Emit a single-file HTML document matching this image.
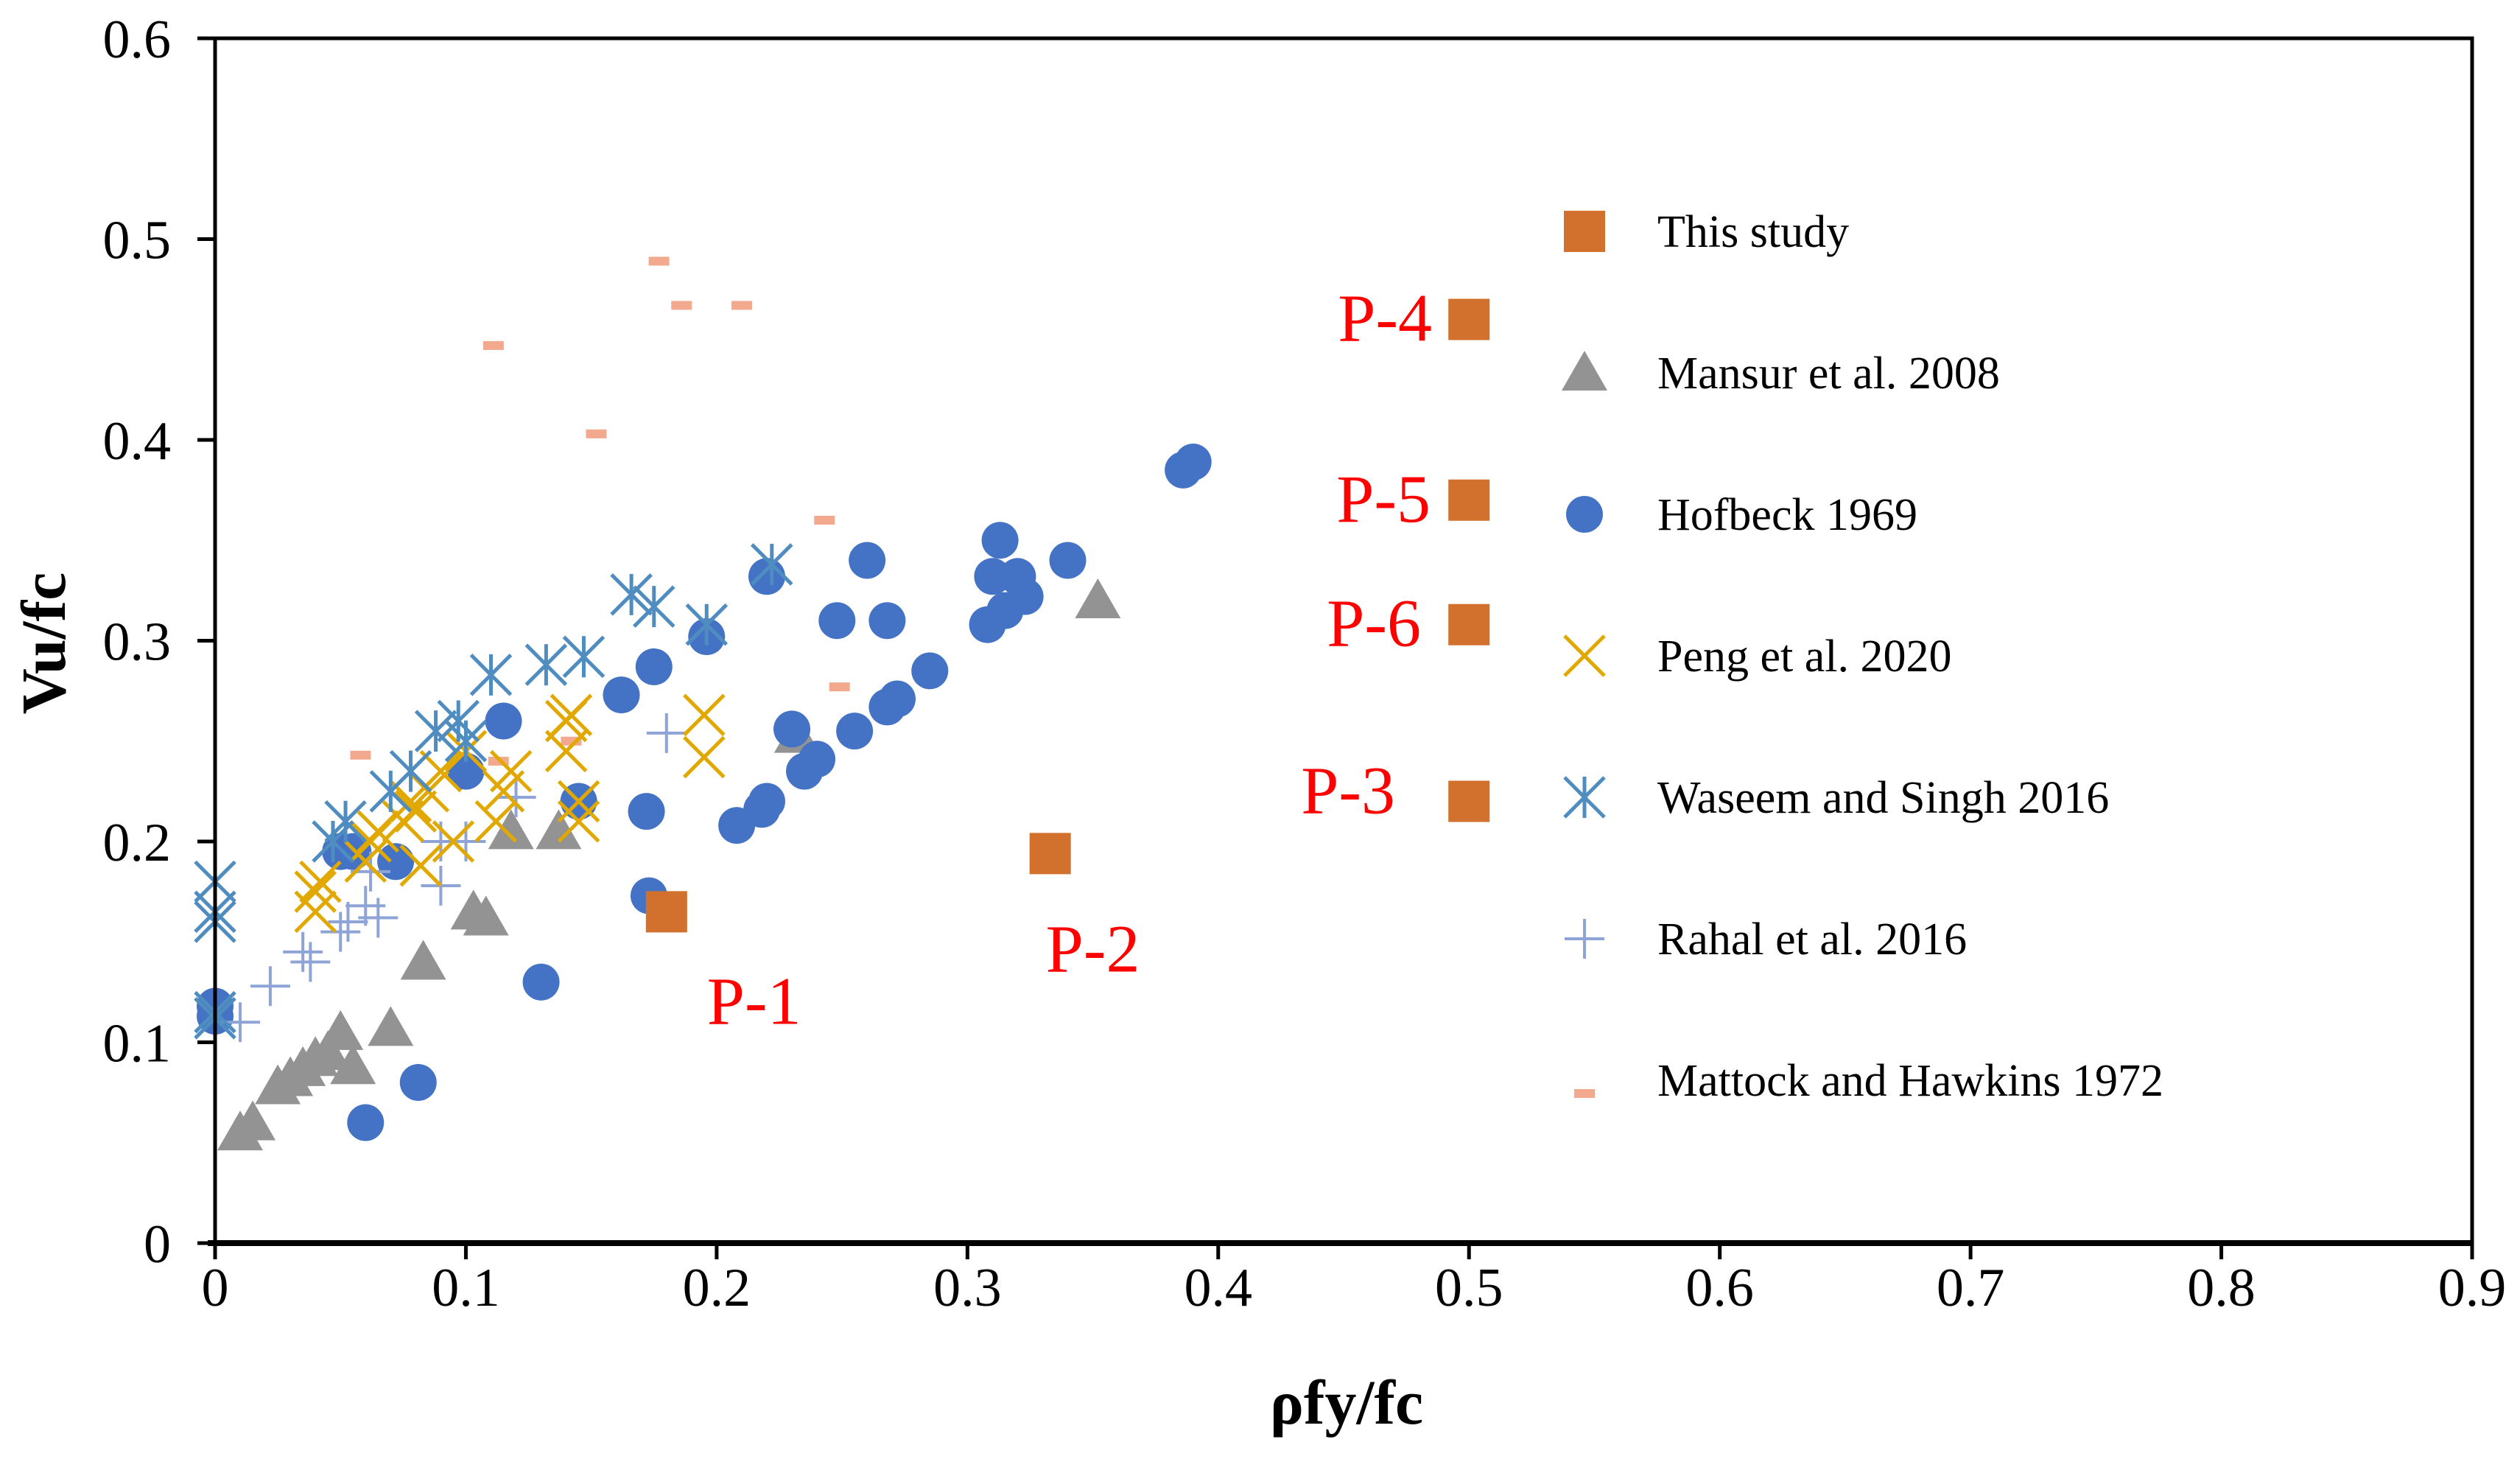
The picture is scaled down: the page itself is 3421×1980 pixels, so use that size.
<!DOCTYPE html>
<html><head><meta charset="utf-8"><style>
html,body{margin:0;padding:0;background:#fff;}
svg{display:block;font-family:"Liberation Serif","Times New Roman",serif;}
</style></head><body>
<svg id="chart" width="3421" height="1980" viewBox="0 0 3421 1980" xmlns="http://www.w3.org/2000/svg">
<rect x="0" y="0" width="3421" height="1980" fill="#fff"/>
<g id="marks"></g>
<g id="axes"></g>
<g id="legend"></g>
<g id="labels"></g>
</svg>
<script>
const xTicks = [0,0.1,0.2,0.3,0.4,0.5,0.6,0.7,0.8,0.9];
const xTickLabels = ["0","0.1","0.2","0.3","0.4","0.5","0.6","0.7","0.8","0.9"];
const yTicks = [0,0.1,0.2,0.3,0.4,0.5,0.6];
const yTickLabels = ["0","0.1","0.2","0.3","0.4","0.5","0.6"];

const studyX = [0.18,0.333,0.5,0.5,0.5,0.5];
const studyY = [0.165,0.194,0.46,0.37,0.308,0.22];
const studyNames = ["P-1","P-2","P-4","P-5","P-6","P-3"];

const mansurX = [0.01,0.015,0.025,0.03,0.035,0.04,0.045,0.05,0.055,0.07,0.083,0.103,0.108,0.118,0.137,0.232,0.352];
const mansurY = [0.055,0.06,0.078,0.082,0.087,0.092,0.095,0.105,0.088,0.107,0.14,0.165,0.162,0.205,0.205,0.253,0.32];

const hofX = [0,0,0.06,0.081,0.13,0.05,0.055,0.072,0.1,0.115,0.145,0.162,0.172,0.173,0.175,0.196,0.208,0.218,0.22,0.22,0.23,0.235,0.24,0.248,0.255,0.26,0.268,0.268,0.272,0.285,0.308,0.31,0.313,0.315,0.32,0.323,0.34,0.386,0.39];
const hofY = [0.118,0.113,0.06,0.08,0.13,0.195,0.195,0.19,0.235,0.26,0.22,0.273,0.215,0.173,0.287,0.302,0.208,0.216,0.22,0.332,0.256,0.235,0.241,0.31,0.255,0.34,0.267,0.31,0.271,0.285,0.308,0.332,0.35,0.315,0.332,0.322,0.34,0.385,0.389];

const pengX = [0.04,0.04,0.042,0.06,0.062,0.065,0.075,0.078,0.08,0.082,0.085,0.09,0.095,0.1,0.112,0.115,0.118,0.14,0.14,0.142,0.145,0.145,0.195,0.195];
const pengY = [0.165,0.175,0.18,0.19,0.2,0.205,0.21,0.22,0.215,0.188,0.225,0.235,0.2,0.245,0.21,0.225,0.235,0.245,0.26,0.263,0.21,0.22,0.242,0.263];

const waseemX = [0,0,0,0,0,0.047,0.052,0.07,0.078,0.088,0.097,0.1,0.11,0.132,0.147,0.166,0.175,0.196,0.222];
const waseemY = [0.18,0.165,0.16,0.115,0.112,0.2,0.21,0.225,0.235,0.255,0.26,0.25,0.283,0.288,0.292,0.323,0.317,0.308,0.338];

const rahalX = [0.01,0.022,0.035,0.038,0.05,0.053,0.06,0.065,0.062,0.09,0.09,0.1,0.12,0.18];
const rahalY = [0.11,0.128,0.145,0.14,0.155,0.16,0.168,0.162,0.185,0.178,0.2,0.2,0.222,0.254];

const mattX = [0.058,0.111,0.113,0.142,0.152,0.177,0.186,0.21,0.243,0.249];
const mattY = [0.243,0.447,0.24,0.25,0.403,0.489,0.467,0.467,0.36,0.277];

const legendNames = ["This study","Mansur et al. 2008","Hofbeck 1969","Peng et al. 2020","Waseem and Singh 2016","Rahal et al. 2016","Mattock and Hawkins 1972"];

const NS="http://www.w3.org/2000/svg";
const L=292,R=3356,T=52,B=1687;
const xS=v=>L+(v/0.9)*(R-L);
const yS=v=>B-(v/0.6)*(B-T);
function mk(tag,attrs,parent){const e=document.createElementNS(NS,tag);for(const k in attrs)e.setAttribute(k,attrs[k]);parent.appendChild(e);return e;}
const marks=document.getElementById('marks'),axes=document.getElementById('axes'),legend=document.getElementById('legend'),labels=document.getElementById('labels');

function drawMarker(type,cx,cy,parent){
  let e;
  if(type==='square'){e=mk('rect',{x:cx-28,y:cy-28,width:56,height:56,fill:'#D2702D'},parent);}
  else if(type==='tri'){e=mk('polygon',{points:`${cx},${cy-30} ${cx+31},${cy+24} ${cx-31},${cy+24}`,fill:'#939393'},parent);}
  else if(type==='circle'){e=mk('ellipse',{cx:cx,cy:cy,rx:25,ry:25,fill:'#4472C4'},parent);}
  else if(type==='x'){e=mk('path',{d:`M${cx-27},${cy-27}L${cx+27},${cy+27}M${cx-27},${cy+27}L${cx+27},${cy-27}`,stroke:'#E0A800','stroke-width':5,fill:'none'},parent);}
  else if(type==='star'){e=mk('path',{d:`M${cx-27},${cy-27}L${cx+27},${cy+27}M${cx-27},${cy+27}L${cx+27},${cy-27}M${cx},${cy-28}L${cx},${cy+28}`,stroke:'#4F8CC0','stroke-width':5,fill:'none'},parent);}
  else if(type==='plus'){e=mk('path',{d:`M${cx-27},${cy}L${cx+27},${cy}M${cx},${cy-27}L${cx},${cy+27}`,stroke:'#8FA4D6','stroke-width':4,fill:'none'},parent);}
  else if(type==='dash'){e=mk('rect',{x:cx-14,y:cy-6,width:28,height:12,fill:'#F2A98D'},parent);}
  return e;
}
const series=[
 ['mattock',mattX,mattY,'dash'],
 ['mansur',mansurX,mansurY,'tri'],
 ['hofbeck',hofX,hofY,'circle'],
 ['rahal',rahalX,rahalY,'plus'],
 ['peng',pengX,pengY,'x'],
 ['waseem',waseemX,waseemY,'star'],
 ['this-study',studyX,studyY,'square']
];
series.forEach(s=>{
  const g=mk('g',{},marks);
  
  
  s[1].forEach((xv,i)=>{
    const e=drawMarker(s[3],xS(xv),yS(s[2][i]),g);
    
    
  });
});

// P labels (offsets relative to each point)
const pOff={"P-1":[55,152],"P-2":[-6,160],"P-4":[-178,29],"P-5":[-180,29],"P-6":[-193,29],"P-3":[-228,16]};
studyNames.forEach((n,i)=>{
  const o=pOff[n];
  const x=xS(studyX[i])+o[0], y=yS(studyY[i])+o[1];
  const t=mk('text',{x:x,y:y,'font-size':92,fill:'#FF0000'},labels);
  t.textContent=n;
  
  
});

// axes frame
const frame=mk('rect',{x:L,y:T,width:R-L,height:B-T,fill:'none',stroke:'#000','stroke-width':5},axes);


mk('line',{x1:L-10,y1:B,x2:R,y2:B,stroke:'#000','stroke-width':8},axes);
xTicks.forEach((v,i)=>{
  const x=xS(v);
  const tk=mk('line',{x1:x,y1:B,x2:x,y2:B+22,stroke:'#000','stroke-width':5},axes);
  
  
  const t=mk('text',{x:x,y:1772,'font-size':74,'text-anchor':'middle'},axes);
  t.textContent=xTickLabels[i];
  
  
});
yTicks.forEach((v,i)=>{
  const y=yS(v);
  const tk=mk('line',{x1:L-24,y1:y,x2:L,y2:y,stroke:'#000','stroke-width':5},axes);
  
  
  const t=mk('text',{x:232,y:y+26,'font-size':74,'text-anchor':'end'},axes);
  t.textContent=yTickLabels[i];
  
  
});
const xt=mk('text',{x:1828,y:1932,'font-size':86,'font-weight':'bold','text-anchor':'middle'},axes);
xt.textContent='ρfy/fc';


const yt=mk('text',{x:0,y:0,'font-size':86,'font-weight':'bold','text-anchor':'middle',transform:'translate(88,873) rotate(-90)'},axes);
yt.textContent='Vu/fc';



// legend
const legTypes=['square','tri','circle','x','star','plus','dash'];
legendNames.forEach((n,i)=>{
  const y=314+i*192;
  const g=mk('g',{},legend);
  
  
  let my=y;
  if(legTypes[i]==='dash')my=y+18;
  drawMarker(legTypes[i],2151,my,g);
  const t=mk('text',{x:2250,y:y+21,'font-size':62},g);
  t.textContent=n;
});
</script>
</body></html>
